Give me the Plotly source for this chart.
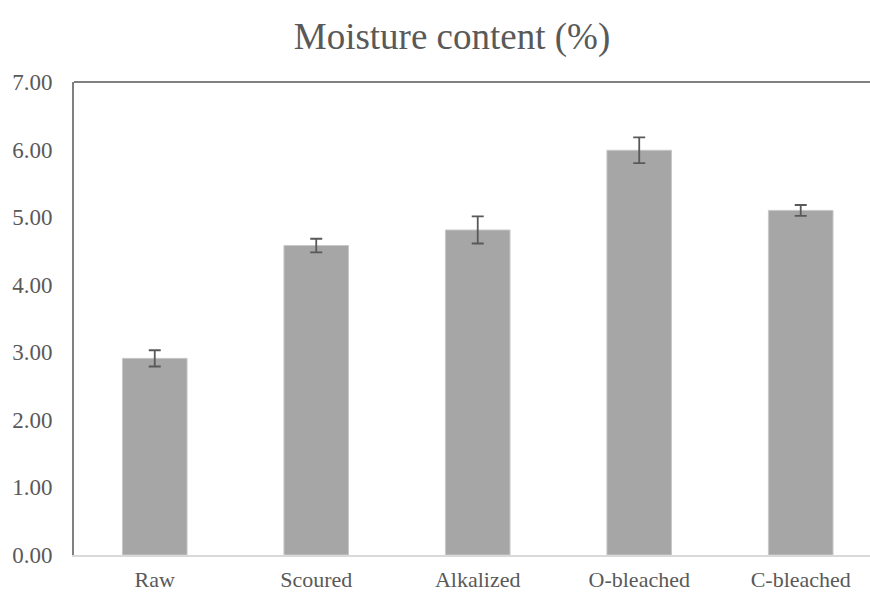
import plotly.graph_objects as go

categories = ["Raw", "Scoured", "Alkalized", "O-bleached", "C-bleached"]
moisture = [2.91, 4.58, 4.81, 5.99, 5.10]
errors = [0.12, 0.10, 0.20, 0.19, 0.08]
y_ticks = [0, 1, 2, 3, 4, 5, 6, 7]
y_tick_labels = ["0.00", "1.00", "2.00", "3.00", "4.00", "5.00", "6.00", "7.00"]

FONT = "Liberation Serif, Times New Roman, serif"
TEXT = "#595959"

fig = go.Figure(
    go.Bar(
        x=list(range(len(categories))),
        y=moisture,
        width=0.4,
        marker=dict(color="#a6a6a6", line=dict(color="#c8c8c8", width=1)),
        error_y=dict(type="data", array=errors, visible=True,
                     color="#595959", thickness=1.8, width=6),
    )
)

fig.update_layout(
    width=870, height=594,
    margin=dict(l=74, r=0, t=82, b=39),
    plot_bgcolor="white", paper_bgcolor="white",
    showlegend=False,
    title=dict(text="Moisture content (%)", x=452 / 870, xref="container", xanchor="center",
               y=1 - 36 / 594, yref="container", yanchor="middle",
               font=dict(family=FONT, size=37, color=TEXT)),
    font=dict(family=FONT, size=23, color=TEXT),
    xaxis=dict(
        tickmode="array", tickvals=list(range(len(categories))), ticktext=categories,
        range=[-0.5, 4.429], showgrid=False, zeroline=False,
        showline=True, linecolor="#d9d9d9", linewidth=2,
        ticks="", ticklabelstandoff=4, automargin=False,
        tickfont=dict(family=FONT, size=22, color=TEXT),
    ),
    yaxis=dict(
        range=[0, 7], tickmode="array", tickvals=y_ticks, ticktext=y_tick_labels,
        showgrid=False, zeroline=False,
        showline=True, linecolor="#808080", linewidth=2,
        ticks="", ticklabelstandoff=15, automargin=False,
        tickfont=dict(family=FONT, size=23, color=TEXT),
    ),
    shapes=[dict(type="line", xref="paper", yref="paper", x0=0, x1=1, y0=1, y1=1,
                 line=dict(color="#808080", width=2))],
)

fig.write_html("out.html", config={"displayModeBar": False},
               post_script="document.body.style.margin='0';document.body.style.overflow='hidden';")
